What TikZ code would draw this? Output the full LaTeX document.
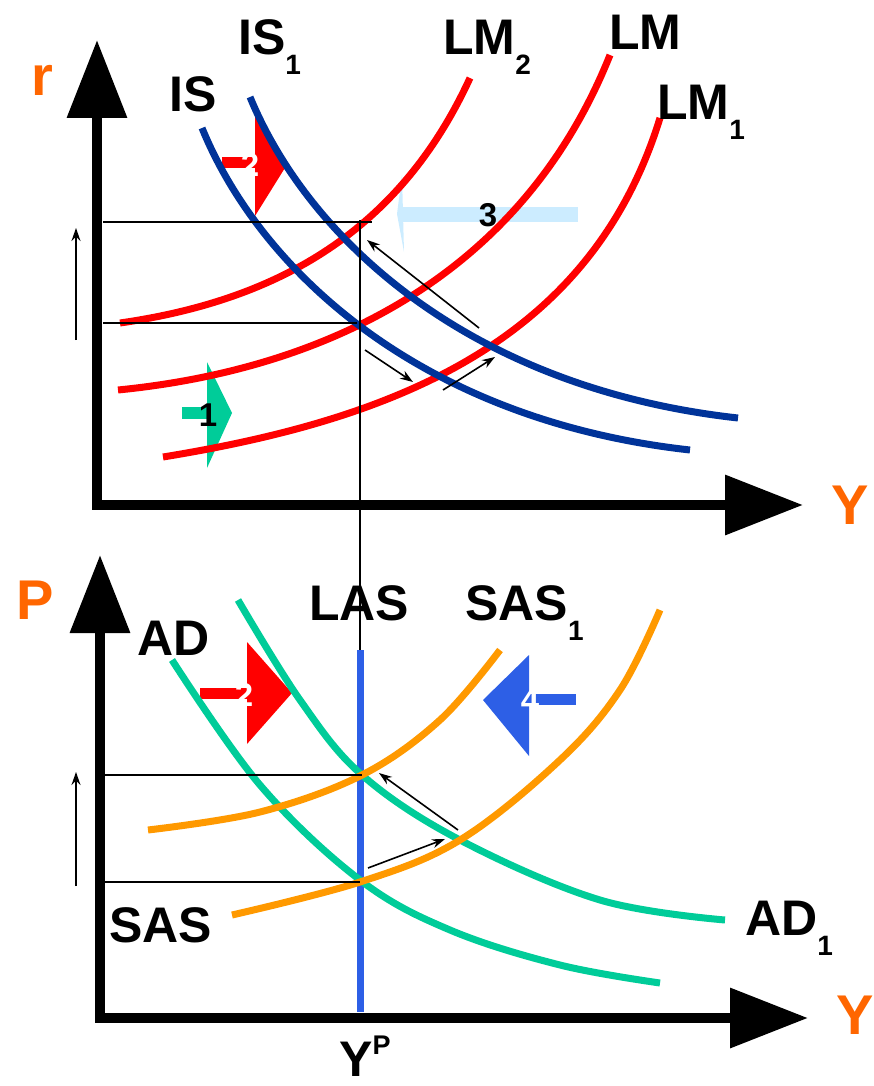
\documentclass[tikz,border=0pt]{standalone}
\usepackage{fontspec}
\setmainfont{Liberation Sans}
\usetikzlibrary{arrows.meta}
\definecolor{isblue}{RGB}{0,51,153}
\definecolor{adteal}{RGB}{0,204,153}
\definecolor{sasorange}{RGB}{255,153,0}
\definecolor{axorange}{RGB}{255,102,0}
\definecolor{lasblue}{RGB}{45,95,230}
\definecolor{lightblue}{RGB}{204,236,255}
\newcommand{\lsub}[1]{\raisebox{-20pt}{\fontsize{28}{28}\selectfont #1}}
\tikzset{
  curve/.style={line width=7pt},
  axisline/.style={line width=10pt, -{Triangle[length=78pt,width=58pt]}},
  thinline/.style={line width=1.6pt},
  smallarrow/.style={line width=1.6pt, -{Stealth[length=13pt,width=9pt]}},
  lbl/.style={font=\bfseries\fontsize{50}{50}\selectfont, inner sep=0pt, anchor=base west},
  axlbl/.style={font=\bfseries\fontsize{56}{56}\selectfont, inner sep=0pt, text=axorange},
  num/.style={font=\bfseries\fontsize{33}{33}\selectfont, inner sep=0pt}
}
\begin{document}
\begin{tikzpicture}[x=1pt,y=-1pt]
\useasboundingbox (0,0) rectangle (874,1086);

% ===== top panel =====
\coordinate (o1) at (97,505);
\coordinate (ytop) at (97,40);
\coordinate (x1s) at (92,505);
\coordinate (x1e) at (803,505);
\draw[axisline] (o1) -- (ytop);
\draw[axisline] (x1s) -- (x1e);

% shift arrows (top)
\fill[red] (222,157) rectangle (256,168);
\fill[red] (255,110) -- (288,163) -- (255,216) -- cycle;
\fill[adteal] (182,407) rectangle (208,419);
\fill[adteal] (207,362) -- (232,413) -- (207,468) -- cycle;
\fill[lightblue] (400,207) rectangle (578,222);
\fill[lightblue] (397,214) -- (402,175) -- (404,252) -- cycle;

% LM curves
\draw[curve, red] (120,323) .. controls (280,300) and (400,230) .. (470,78);
\draw[curve, red] (118,390) .. controls (320,370) and (520,280) .. (610,55);
\draw[curve, red] (163,457) .. controls (390,420) and (590,345) .. (660,118);
% IS curves
\draw[curve, isblue] (202,128) .. controls (260,270) and (420,420) .. (690,450);
\draw[curve, isblue] (250,97) .. controls (308,238) and (468,388) .. (738,418);

% guide lines top
\coordinate (h1a) at (103,222); \coordinate (h1b) at (372,222);
\coordinate (h2a) at (103,323); \coordinate (h2b) at (357,323);
\coordinate (vt) at (360,220); \coordinate (vb) at (360,652);
\draw[thinline] (h1a) -- (h1b);
\draw[thinline] (h2a) -- (h2b);
\draw[thinline] (vt) -- (vb);

% small arrows top
\coordinate (a1s) at (479,328); \coordinate (a1e) at (367,240);
\coordinate (a2s) at (365,350); \coordinate (a2e) at (413,382);
\coordinate (a3s) at (443,390); \coordinate (a3e) at (495,357);
\coordinate (l1s) at (76,340); \coordinate (l1e) at (76,228);
\draw[smallarrow] (a1s) -- (a1e);
\draw[smallarrow] (a2s) -- (a2e);
\draw[smallarrow] (a3s) -- (a3e);
\draw[smallarrow] (l1s) -- (l1e);

% numbers top
\node[num, text=white] (n2t) at (250,165) {2};
\node[num] (n1) at (208,415) {1};
\node[num] (n3) at (488,215) {3};

% labels top
\node[axlbl] (r) at (42,80) {r};
\node[axlbl] (Yt) at (850,505) {Y};
\node[lbl] (IS) at (169,112) {IS};
\node[lbl] (IS1) at (238,55) {IS\lsub{1}};
\node[lbl] (LM2) at (443,55) {LM\lsub{2}};
\node[lbl] (LM) at (609,50) {LM};
\node[lbl] (LM1) at (657,120) {LM\lsub{1}};

% ===== bottom panel =====
\coordinate (o2) at (100,1018);
\coordinate (ytop2) at (100,555);
\coordinate (x2s) at (95,1018);
\coordinate (x2e) at (808,1018);
\draw[axisline] (o2) -- (ytop2);
\draw[axisline] (x2s) -- (x2e);

% shift arrows bottom
\fill[red] (200,688) rectangle (248,699);
\fill[red] (247,642) -- (292,693) -- (247,744) -- cycle;
\fill[lasblue] (529,694) rectangle (576,705);
\fill[lasblue] (529,655) -- (483,700) -- (529,756) -- cycle;

% LAS
\coordinate (las1) at (360,650); \coordinate (las2) at (360,1012);
\draw[line width=7pt, lasblue] (las1) -- (las2);

% AD curves
\draw[curve, adteal] plot[smooth, tension=0.6] coordinates {(172,660) (260,785) (360,880) (450,930) (560,965) (660,983)};
\draw[curve, adteal] plot[smooth, tension=0.6] coordinates {(238,600) (300,700) (362,775) (460,840) (600,900) (725,920)};
% SAS curves
\draw[curve, sasorange] plot[smooth, tension=0.6] coordinates {(148,830) (260,812) (362,775) (440,720) (500,650)};
\draw[curve, sasorange] plot[smooth, tension=0.6] coordinates {(232,915) (360,882) (460,840) (560,760) (620,690) (660,610)};

% guide lines bottom
\coordinate (h3a) at (105,775); \coordinate (h3b) at (362,775);
\coordinate (h4a) at (105,882); \coordinate (h4b) at (360,882);
\draw[thinline] (h3a) -- (h3b);
\draw[thinline] (h4a) -- (h4b);

% small arrows bottom
\coordinate (b1s) at (458,830); \coordinate (b1e) at (379,773);
\coordinate (b2s) at (368,868); \coordinate (b2e) at (445,839);
\coordinate (l2s) at (76,886); \coordinate (l2e) at (76,772);
\draw[smallarrow] (b1s) -- (b1e);
\draw[smallarrow] (b2s) -- (b2e);
\draw[smallarrow] (l2s) -- (l2e);

% numbers bottom
\node[num, text=white] (n2b) at (244,695) {2};
\node[num, text=white] (n4) at (530,700) {4};

% labels bottom
\node[axlbl] (P) at (35,600) {P};
\node[axlbl] (Yb) at (855,1015) {Y};
\node[lbl] (AD) at (137,655) {AD};
\node[lbl] (LAS) at (309,620) {LAS};
\node[lbl] (SAS1) at (465,620) {SAS\lsub{1}};
\node[lbl] (SAS) at (109,942) {SAS};
\node[lbl] (AD1) at (745,935) {AD\lsub{1}};
\node[lbl] (YP) at (339,1076) {Y\raisebox{22pt}{\fontsize{27}{27}\selectfont P}};
\end{tikzpicture}
\end{document}
